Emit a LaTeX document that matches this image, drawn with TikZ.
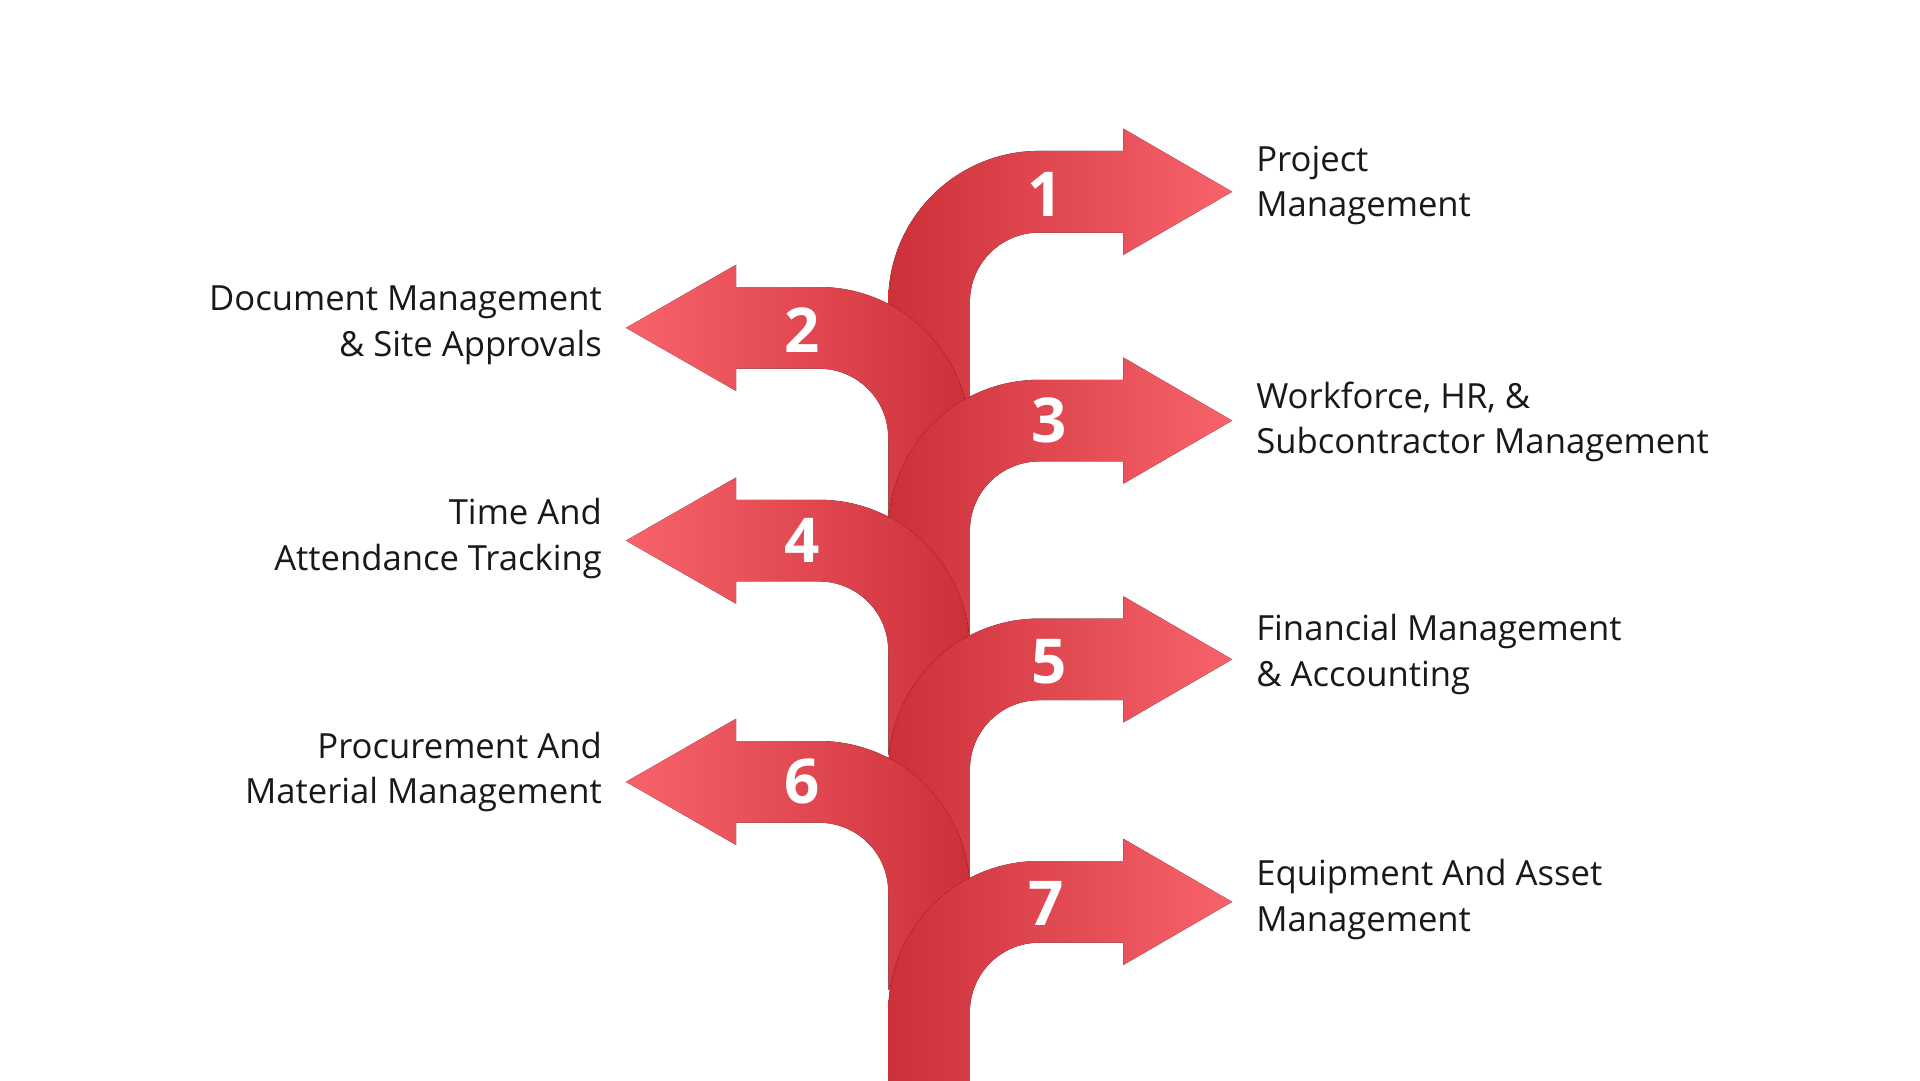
\documentclass[tikz,border=0pt]{standalone}
\usepackage{fontspec}
\setmainfont{Open Sans}
\definecolor{dk}{HTML}{CC3039}
\definecolor{lt}{HTML}{F8636B}
\tikzset{
  rarr/.style={left color=dk,right color=lt,draw=none},
  larr/.style={right color=dk,left color=lt,draw=none},
  num/.style={text=white,font=\fontsize{50}{50}\selectfont\bfseries},
  lab/.style={font=\fontsize{28}{37}\selectfont,text=black!90}
}
\newcommand\rarrow[2]{%
  \fill[rarr] (718,{873-(#2)}) -- (718,{873-(#1)+33-122}) arc[start angle=180,end angle=90,radius=122]
   -- (908,{873-(#1)+33}) -- (908,{873-(#1)+51}) -- (996,{873-(#1)}) -- (908,{873-(#1)-51})
   -- (908,{873-(#1)-33}) -- (840,{873-(#1)-33}) arc[start angle=90,end angle=180,radius=56]
   -- (784,{873-(#2)}) -- cycle;}
\newcommand\larrow[2]{%
  \fill[larr] (784,{873-(#2)}) -- (784,{873-(#1)+33-122}) arc[start angle=0,end angle=90,radius=122]
   -- (595,{873-(#1)+33}) -- (595,{873-(#1)+51}) -- (506,{873-(#1)}) -- (595,{873-(#1)-51})
   -- (595,{873-(#1)-33}) -- (662,{873-(#1)-33}) arc[start angle=90,end angle=0,radius=56]
   -- (718,{873-(#2)}) -- cycle;}
\begin{document}
\begin{tikzpicture}[x=1pt,y=1pt]
\useasboundingbox (0,0) rectangle (1552,873);
\fill[white] (0,0) rectangle (1552,873);
\rarrow{155}{330}
\larrow{265}{420}
\rarrow{340}{520}
\larrow{437}{610}
\rarrow{533}{720}
\larrow{632}{800}
\rarrow{729}{880}
\node[num] (n1) at (845,{873-157}) {1};
\node[num] (n2) at (648,{873-267}) {2};
\node[num] (n3) at (848,{873-340}) {3};
\node[num] (n4) at (648,{873-437}) {4};
\node[num] (n5) at (848,{873-535}) {5};
\node[num] (n6) at (648,{873-632}) {6};
\node[num] (n7) at (846,{873-730}) {7};
\node[lab,anchor=west,align=left] (t1) at (1012,{873-150}) {Project\\Management};
\node[lab,anchor=east,align=right] (t2) at (490,{873-263}) {Document Management\\\& Site Approvals};
\node[lab,anchor=west,align=left] (t3) at (1012,{873-341}) {Workforce, HR, \&\\Subcontractor Management};
\node[lab,anchor=east,align=right] (t4) at (490,{873-435}) {Time And\\Attendance Tracking};
\node[lab,anchor=west,align=left] (t5) at (1012,{873-529}) {Financial Management\\\& Accounting};
\node[lab,anchor=east,align=right] (t6) at (490,{873-624}) {Procurement And\\Material Management};
\node[lab,anchor=west,align=left] (t7) at (1012,{873-727}) {Equipment And Asset\\Management};
\end{tikzpicture}
\end{document}
